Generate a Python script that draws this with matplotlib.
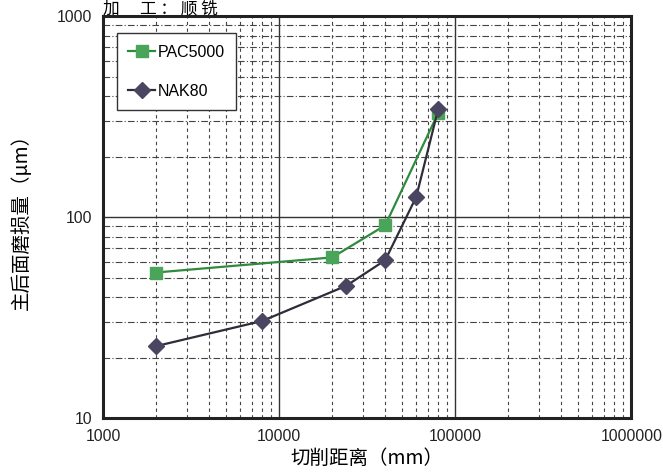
import matplotlib
matplotlib.use("Agg")
import matplotlib.pyplot as plt
from matplotlib.ticker import NullFormatter, LogLocator

plt.rcParams['font.family'] = ['Noto Sans CJK SC', 'DejaVu Sans']

pac_x = [2000, 20000, 40000, 80000]
pac_y = [53, 63, 91, 330]
nak_x = [2000, 8000, 24000, 40000, 60000, 80000]
nak_y = [22.8, 30.4, 45.5, 61, 126, 345]
x_ticks = [1000, 10000, 100000, 1000000]
x_labels = ["1000", "10000", "100000", "1000000"]
y_ticks = [10, 100, 1000]
y_labels = ["10", "100", "1000"]

fig = plt.figure(figsize=(6.63, 4.74), dpi=100)
ax = fig.add_axes([0.1554, 0.118, 0.797, 0.848])
ax.set_xscale('log')
ax.set_yscale('log')
ax.set_xlim(1000, 1000000)
ax.set_ylim(10, 1000)

ax.set_xticks(x_ticks)
ax.set_xticklabels(x_labels, family=['Liberation Sans', 'DejaVu Sans'])
ax.set_yticks(y_ticks)
ax.set_yticklabels(y_labels, family=['Liberation Sans', 'DejaVu Sans'])
ax.xaxis.set_minor_locator(LogLocator(base=10, subs=range(2, 10)))
ax.yaxis.set_minor_locator(LogLocator(base=10, subs=range(2, 10)))
ax.xaxis.set_minor_formatter(NullFormatter())
ax.yaxis.set_minor_formatter(NullFormatter())
ax.tick_params(which='both', length=0, labelsize=11.3, colors='#222222', pad=8)

ax.grid(which='major', color='#333333', linewidth=1.0, linestyle='-')
ax.xaxis.grid(which='minor', color='#444444', linewidth=0.8, linestyle=(0, (3, 3)))
ax.yaxis.grid(which='minor', color='#444444', linewidth=0.8, linestyle=(0, (6, 2, 1, 2)))

for s in ax.spines.values():
    s.set_linewidth(2.2)
    s.set_color('#222222')

ax.plot(pac_x, pac_y, color='#2e8b3e', linewidth=1.6, marker='s', markersize=8,
        markerfacecolor='#4aa55a', markeredgecolor='#4aa55a', label='PAC5000', zorder=3)
ax.plot(nak_x, nak_y, color='#2f2c3a', linewidth=1.6, marker='D', markersize=8,
        markerfacecolor='#4a4560', markeredgecolor='#4a4560', label='NAK80', zorder=4)

leg = ax.legend(loc='upper left', bbox_to_anchor=(0.02, 0.965),
                prop={'family': ['Liberation Sans', 'DejaVu Sans'], 'size': 11.5},
                frameon=True, fancybox=False, edgecolor='#333333', framealpha=1,
                handlelength=1.7, labelspacing=1.5, borderpad=0.7, handletextpad=0.15,
                borderaxespad=0.2)
leg.get_frame().set_linewidth(1.0)

ax.set_xlabel('切削距离（mm）', fontsize=14, labelpad=3)
ax.set_ylabel('主后面磨损量（μm）', fontsize=14, labelpad=18)

fig.text(0.155, 1.0, '加　 工 ： 顺 铣', fontsize=12, va='top', ha='left')

fig.savefig('out.png', dpi=100)
